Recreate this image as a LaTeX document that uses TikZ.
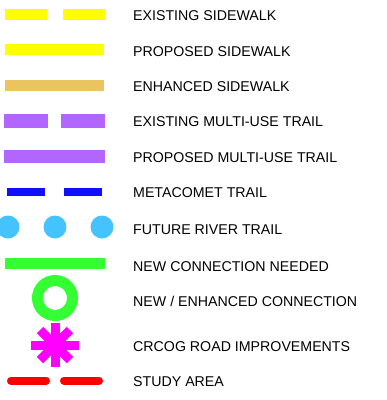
\documentclass[tikz,border=0pt]{standalone}
\usepackage{fontspec}
\setmainfont{Liberation Sans}
\usetikzlibrary{positioning}
\definecolor{swyellow}{HTML}{FFFF00}
\definecolor{swtan}{HTML}{EBC462}
\definecolor{mutpurple}{HTML}{B266FF}
\definecolor{metablue}{HTML}{1010FF}
\definecolor{riverblue}{HTML}{44C3FF}
\definecolor{conngreen}{HTML}{33FF33}
\definecolor{crcogmag}{HTML}{FF00FF}
\definecolor{studyred}{HTML}{FF0000}
\tikzset{
  lbl/.style={anchor=west, inner sep=0pt, font=\fontsize{14.2}{16}\selectfont},
  swline/.style={draw=swyellow, line width=11pt},
  mutline/.style={draw=mutpurple, line width=13.5pt},
  metaline/.style={draw=metablue, line width=8pt, dash pattern=on 38pt off 19pt},
  riverdot/.style={circle, fill=riverblue, minimum size=23pt, inner sep=0pt},
  redline/.style={draw=studyred, line width=8pt, line cap=round, dash pattern=on 35pt off 18pt},
  legend/.style={x=1pt, y=-1pt}
}

\begin{document}
\begin{tikzpicture}[legend]
        \useasboundingbox (0,0) rectangle (387,400);
        % symbols
        \draw[swline, dash pattern=on 42pt off 16pt] (5,14) -- (105,14);
        \draw[swline] (5,49.5) -- (104,49.5);
        \draw[swline, draw=swtan] (5,85.5) -- (104,85.5);
        \draw[mutline, dash pattern=on 44pt off 13pt] (4,121) -- (105,121);
        \draw[mutline] (4,156.5) -- (105,156.5);
        \draw[metaline] (7,192) -- (103,192);
        \node[riverdot] (d1) at (8,227) {};
        \node[riverdot] (d2) at (55,227) {};
        \node[riverdot] (d3) at (102,227) {};
        \draw[draw=conngreen, line width=11pt] (5,263) -- (105,263);
        \draw[draw=conngreen, line width=11pt] (55,298) circle (17.5);
        \draw[draw=crcogmag, line width=9pt] (55,323) -- (55,367);
        \draw[draw=crcogmag, line width=9pt] (31,345) -- (79,345);
        \draw[draw=crcogmag, line width=9pt] (40,330) -- (70,360);
        \draw[draw=crcogmag, line width=9pt] (40,360) -- (70,330);
        \draw[redline] (11,380.5) -- (99,380.5);
        % labels
        \node[lbl] (exsw) at (133,16) {EXISTING SIDEWALK};
        \node[lbl] (prsw) at (133,51.5) {PROPOSED SIDEWALK};
        \node[lbl] (ensw) at (133,87) {ENHANCED SIDEWALK};
        \node[lbl] (exmut) at (133,122) {EXISTING MULTI-USE TRAIL};
        \node[lbl] (prmut) at (133,157.5) {PROPOSED MULTI-USE TRAIL};
        \node[lbl] (meta) at (133,192.5) {METACOMET TRAIL};
        \node[lbl] (river) at (133,230) {FUTURE RIVER TRAIL};
        \node[lbl] (newc) at (133,267) {NEW CONNECTION NEEDED};
        \node[lbl] (enhc) at (133,301) {NEW / ENHANCED CONNECTION};
        \node[lbl] (crcog) at (133,346.5) {CRCOG ROAD IMPROVEMENTS};
        \node[lbl] (study) at (133,382) {STUDY AREA};
      \end{tikzpicture}
\end{document}
